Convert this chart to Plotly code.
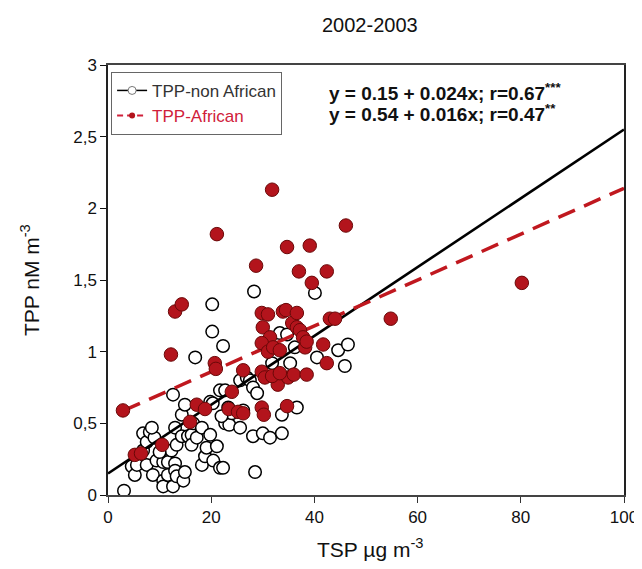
import plotly.graph_objects as go

# Non-African (open circles)
nonaf_x = [3.1, 4.6, 5.2, 5.6, 6.8, 6.8, 7.5, 7.5, 8.1, 8.7, 9.4, 10.7, 10.7, 10.7, 11.6, 11.6,
           12.3, 12.6, 12.6, 13.0, 13.0, 13.3, 13.3, 13.0, 14.3, 14.3, 14.6, 14.9, 14.9, 15.5,
           16.2, 16.2, 16.5, 16.9, 17.2, 18.2, 18.2, 18.8, 19.1, 19.8, 19.8, 20.2, 20.2, 20.3,
           20.4, 21.1, 21.7, 21.7, 22.3, 22.3, 22.7, 22.7, 23.3, 23.5, 25.6, 25.6, 26.2, 26.9,
           27.5, 28.1, 28.1, 28.5, 28.3, 28.9, 30.0, 31.4, 31.8, 33.3, 33.7, 33.7, 35.3, 36.2,
           36.6, 40.1, 40.5, 44.6, 46.5, 45.9, 34.7, 24.0, 10.0, 9.0, 8.5, 22.0]
nonaf_y = [0.03, 0.20, 0.14, 0.21, 0.31, 0.43, 0.37, 0.21, 0.44, 0.14, 0.24, 0.23, 0.10, 0.06, 0.23, 0.14,
           0.31, 0.06, 0.70, 0.22, 0.17, 0.35, 0.13, 0.47, 0.41, 0.56, 0.10, 0.16, 0.63, 0.41,
           0.42, 0.35, 0.50, 0.96, 0.40, 0.47, 0.21, 0.27, 0.33, 0.42, 0.65, 1.33, 1.14, 0.64,
           0.24, 0.34, 0.19, 0.73, 1.04, 0.19, 0.50, 0.73, 0.61, 0.49, 0.47, 0.80, 0.59, 0.82,
           0.80, 0.75, 0.41, 0.16, 1.42, 0.71, 0.43, 0.40, 0.92, 1.13, 0.43, 0.56, 0.92, 1.03,
           0.61, 1.41, 0.96, 1.01, 1.05, 0.90, 1.12, 0.57, 0.30, 0.40, 0.47, 0.55]

# African (filled red)
af_x = [2.9, 5.2, 6.4, 10.5, 12.2, 13.0, 14.3, 15.9, 17.2, 18.8, 20.7, 20.9, 21.1, 23.4, 24.0,
        25.2, 26.2, 26.2, 28.7, 29.8, 31.0, 30.0, 31.4, 29.8, 31.0, 29.8, 30.4, 29.8, 30.2,
        31.8, 32.0, 33.3, 32.7, 32.9, 33.9, 34.5, 34.7, 34.7, 34.9, 35.7, 36.6, 36.6, 37.0,
        37.2, 37.8, 38.2, 38.5, 36.0, 38.5, 39.1, 39.5, 41.7, 42.4, 42.4, 43.0, 44.0, 46.1,
        54.8, 80.2, 31.8, 33.3]
af_y = [0.59, 0.28, 0.29, 0.35, 0.98, 1.28, 1.33, 0.51, 0.63, 0.60, 0.92, 0.88, 1.82, 0.60, 0.72,
        0.58, 0.87, 0.57, 1.60, 1.27, 1.26, 1.17, 1.10, 1.06, 1.00, 0.86, 0.82, 0.61, 0.56,
        2.13, 1.03, 1.01, 0.82, 0.77, 1.28, 1.29, 1.73, 0.62, 0.82, 1.20, 1.27, 1.17, 1.56,
        1.15, 1.10, 1.03, 1.07, 0.84, 0.84, 1.74, 1.48, 1.05, 1.56, 0.92, 1.23, 1.23, 1.88,
        1.23, 1.48, 0.83, 0.85]

# Regression fits (from equations shown)
fit_nonaf = (0.15, 0.024)
fit_af = (0.54, 0.016)
fit_nonaf_x = [0, 100]
fit_af_x = [3, 100]

x_ticks = [0, 20, 40, 60, 80, 100]
y_ticks = [0, 0.5, 1, 1.5, 2, 2.5, 3]
y_ticklabels = ["0", "0,5", "1", "1,5", "2", "2,5", "3"]

RED = "#b3141c"
FONT = "Liberation Sans, Arial, sans-serif"

fig = go.Figure()

fig.add_trace(go.Scatter(
    x=nonaf_x, y=nonaf_y, mode="markers", showlegend=False,
    marker=dict(size=12.5, color="white", line=dict(color="black", width=1.5))))

fig.add_trace(go.Scatter(
    x=fit_nonaf_x, y=[fit_nonaf[0] + fit_nonaf[1] * v for v in fit_nonaf_x],
    mode="lines", showlegend=False, line=dict(color="black", width=2.6)))

fig.add_trace(go.Scatter(
    x=fit_af_x, y=[fit_af[0] + fit_af[1] * v for v in fit_af_x],
    mode="lines", showlegend=False, line=dict(color="#c0181f", width=3.5, dash="18px,10px")))

fig.add_trace(go.Scatter(
    x=af_x, y=af_y, mode="markers", showlegend=False,
    marker=dict(size=13.5, color=RED, line=dict(color="#6a0808", width=1))))

# legend entries
fig.add_trace(go.Scatter(
    x=[None], y=[None], mode="lines+markers", name="TPP-non African",
    line=dict(color="black", width=1.5),
    marker=dict(size=8, color="white", line=dict(color="#777", width=1))))
fig.add_trace(go.Scatter(
    x=[None], y=[None], mode="lines+markers",
    name="<span style='color:#d0203a'>TPP-African</span>",
    line=dict(color="#d0203a", width=2, dash="6px,4px"),
    marker=dict(size=6, color="#b3141c")))

fig.add_annotation(xref="paper", yref="paper", x=0.424, y=0.937, xanchor="left", yanchor="middle",
                   text="<b>y = 0.15 + 0.024x; r=0.67<sup>***</sup></b>", showarrow=False,
                   font=dict(size=19, color="#111", family=FONT))
fig.add_annotation(xref="paper", yref="paper", x=0.424, y=0.888, xanchor="left", yanchor="middle",
                   text="<b>y = 0.54 + 0.016x; r=0.47<sup>**</sup></b>", showarrow=False,
                   font=dict(size=19, color="#111", family=FONT))

# titles
fig.add_annotation(xref="paper", yref="paper", x=0.508, y=1.093, xanchor="center", yanchor="middle",
                   text="2002-2003", showarrow=False, font=dict(size=20, color="#111", family=FONT))
fig.add_annotation(xref="paper", yref="paper", x=0.508, y=-0.123, xanchor="center", yanchor="middle",
                   text="TSP \u00b5g m<sup>-3</sup>", showarrow=False,
                   font=dict(size=21, color="#111", family=FONT))
fig.add_annotation(xref="paper", yref="paper", x=-0.151, y=0.5, xanchor="center", yanchor="middle",
                   text="TPP nM m<sup>-3</sup>", showarrow=False, textangle=-90,
                   font=dict(size=21, color="#111", family=FONT))

# page body has an 8px margin, so the figure is sized/offset to land the plot area at
# x 108..624, y 65..495 in the 642x569 window
fig.update_layout(
    width=634, height=561,
    margin=dict(l=100, r=18, t=57, b=74, autoexpand=False),
    paper_bgcolor="white", plot_bgcolor="white",
    font=dict(family=FONT, color="#111"),
    legend=dict(x=0.006, y=0.984, xanchor="left", yanchor="top",
                bordercolor="#666", borderwidth=1, bgcolor="white",
                font=dict(size=17, color="#333", family=FONT),
                tracegroupgap=0),
)

fig.update_xaxes(range=[0, 100], tickvals=x_ticks, ticks="outside", ticklen=6,
                 tickcolor="#333", showline=True, linecolor="#444", linewidth=1.5, mirror=True,
                 showgrid=False, zeroline=False, automargin=False,
                 tickfont=dict(size=17, color="#111"))
fig.update_yaxes(range=[0, 3], tickvals=y_ticks, ticktext=y_ticklabels, ticks="outside", ticklen=6,
                 tickcolor="#111", showline=True, linecolor="#222", linewidth=1.5, mirror=True,
                 showgrid=False, zeroline=False, automargin=False,
                 tickfont=dict(size=17, color="#111"))

fig.write_html("out.html")
